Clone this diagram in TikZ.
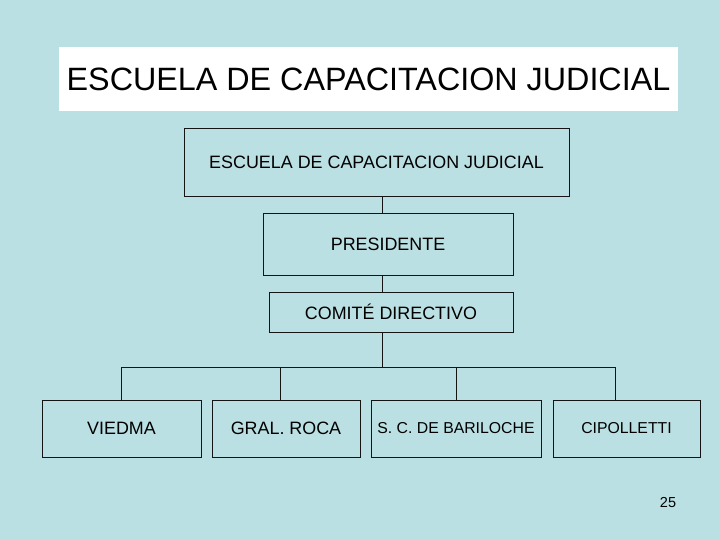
\documentclass[tikz,border=0pt]{standalone}
\usepackage{fontspec}
\setmainfont{Liberation Sans}

\definecolor{ecjBack}{RGB}{187,224,227}
\definecolor{ecjLine}{RGB}{20,20,20}

\tikzset{
  orgbox/.style={draw=ecjLine, line width=0.9pt, inner sep=0pt, font=\fontsize{17.9}{20}\selectfont},
  sedebox/.style={orgbox, minimum height=57pt},
  orgline/.style={draw=ecjLine, line width=0.9pt}
}

\begin{document}
\begin{tikzpicture}[x=1pt, y=-1pt]
  \fill[ecjBack] (0,0) rectangle (720,540);
  \useasboundingbox (0,0) rectangle (720,540);
  % title
  \node[fill=white, inner sep=0pt, minimum width=619pt, minimum height=64pt,
        font=\fontsize{32.3}{36}\selectfont] (titulo) at (368.5,79) {ESCUELA DE CAPACITACION JUDICIAL};
  % chain
  \node[orgbox, minimum width=385pt, minimum height=68pt] (escuela) at (376.5,162) {ESCUELA DE CAPACITACION JUDICIAL};
  \node[orgbox, minimum width=250pt, minimum height=62pt] (presidente) at (388,244) {PRESIDENTE};
  \node[orgbox, minimum width=244pt, minimum height=40pt] (comite) at (391,312) {COMITÉ DIRECTIVO};
  % sedes
  \node[sedebox, minimum width=159pt] (viedma) at (121.5,428.5) {VIEDMA};
  \node[sedebox, minimum width=148pt] (roca) at (286,428.5) {GRAL. ROCA};
  \node[sedebox, minimum width=170pt, font=\fontsize{15.8}{18}\selectfont] (bariloche) at (456,428.5) {S. C. DE BARILOCHE};
  \node[sedebox, minimum width=147pt, font=\fontsize{15.8}{18}\selectfont] (cipolletti) at (626.5,428.5) {CIPOLLETTI};
  % connectors
  \coordinate (eje) at (382,367);
  \coordinate (d1) at (121,367);
  \coordinate (d2) at (280,367);
  \coordinate (d3) at (456,367);
  \coordinate (d4) at (615,367);
  \draw[orgline] (escuela.south -| eje) -- (presidente.north -| eje);
  \draw[orgline] (presidente.south -| eje) -- (comite.north -| eje);
  \draw[orgline] (comite.south -| eje) -- (eje);
  \draw[orgline] (d1) -- (d4);
  \draw[orgline] (d1) -- (d1 |- viedma.north);
  \draw[orgline] (d2) -- (d2 |- roca.north);
  \draw[orgline] (d3) -- (d3 |- bariloche.north);
  \draw[orgline] (d4) -- (d4 |- cipolletti.north);
  % page number
  \node[font=\fontsize{14.5}{17}\selectfont] (pagina) at (668,503) {25};
\end{tikzpicture}
\end{document}
